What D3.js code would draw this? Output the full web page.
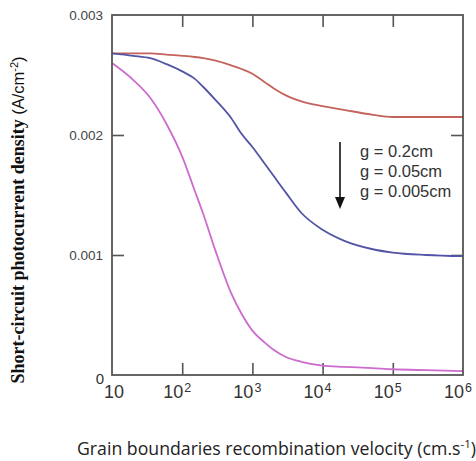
<!DOCTYPE html>
<html>
<head>
<meta charset="utf-8">
<script src="https://cdn.jsdelivr.net/npm/d3@7"></script>
<style>
  html, body { margin: 0; padding: 0; background: #fff; }
  svg { display: block; }
</style>
</head>
<body>
<svg id="chart" width="476" height="461"></svg>
<script>
// Grain boundary recombination velocity Sgb (cm/s)
const velocity = [10, 20, 35, 60, 100, 150, 200, 300, 500, 700, 1000, 1500, 2000, 3000, 5000, 1e4, 2e4, 5e4, 1e5, 3e5, 1e6];

// Short-circuit photocurrent density (A/cm^2) for three grain sizes
const jscG02 = [0.00268, 0.00268, 0.00268, 0.00267, 0.00266, 0.00265, 0.00264, 0.00262, 0.00258, 0.00255, 0.00251, 0.00244, 0.00239, 0.00233, 0.00228, 0.00224, 0.00221, 0.00217, 0.00215, 0.00215, 0.00215];
const jscG005 = [0.00268, 0.00266, 0.00264, 0.00259, 0.00253, 0.00247, 0.00240, 0.00229, 0.00214, 0.00201, 0.00190, 0.00176, 0.00166, 0.00152, 0.00135, 0.00121, 0.00112, 0.00105, 0.00102, 0.00100, 0.00099];
const jscG0005 = [0.00260, 0.00246, 0.00231, 0.00209, 0.00182, 0.00154, 0.00134, 0.00103, 0.00068, 0.00051, 0.00037, 0.00027, 0.00021, 0.00015, 0.00011, 0.000078, 0.000068, 0.000058, 0.000048, 0.000040, 0.000033];

const seriesNames = ["g = 0.2cm", "g = 0.05cm", "g = 0.005cm"];
const seriesColors = ["#c4625c", "#5254a6", "#cc6ccf"];

const xTickExps = [1, 2, 3, 4, 5, 6];
const yTicks = [0.001, 0.002, 0.003];

const svg = d3.select("#chart");
const plot = { left: 112, right: 463, top: 15, bottom: 375 };

const x = d3.scaleLog().domain([10, 1e6]).range([plot.left, plot.right]);
const y = d3.scaleLinear().domain([0, 0.003]).range([plot.bottom, plot.top]);

const frameColor = "#555";
const tickLen = 12;

// tick marks on all four sides, pointing inward
const innerX = xTickExps.slice(1, -1).map(e => Math.pow(10, e));
const xAxisBottom = d3.axisBottom(x).tickValues(innerX)
  .tickSizeInner(-tickLen).tickSizeOuter(0).tickFormat("");
const xAxisTop = d3.axisTop(x).tickValues(innerX)
  .tickSizeInner(-tickLen).tickSizeOuter(0).tickFormat("");
const yAxisLeft = d3.axisLeft(y).tickValues([0.001, 0.002])
  .tickSizeInner(-tickLen).tickSizeOuter(0).tickFormat("");
const yAxisRight = d3.axisRight(y).tickValues([0.001, 0.002])
  .tickSizeInner(-tickLen).tickSizeOuter(0).tickFormat("");

function styleAxis(g) {
  g.select(".domain").remove();
  g.selectAll(".tick line").attr("stroke", frameColor).attr("stroke-width", 1.6);
}

svg.append("g").attr("transform", `translate(0,${plot.bottom})`).call(xAxisBottom).call(styleAxis);
svg.append("g").attr("transform", `translate(0,${plot.top})`).call(xAxisTop).call(styleAxis);
svg.append("g").attr("transform", `translate(${plot.left},0)`).call(yAxisLeft).call(styleAxis);
svg.append("g").attr("transform", `translate(${plot.right},0)`).call(yAxisRight).call(styleAxis);

// curves
const line = d3.line()
  .x((d, i) => x(velocity[i]))
  .y(d => y(d))
  .curve(d3.curveMonotoneX);

[jscG02, jscG005, jscG0005].forEach((vals, k) => {
  svg.append("path")
    .datum(vals)
    .attr("fill", "none")
    .attr("stroke", seriesColors[k])
    .attr("stroke-width", 1.8)
    .attr("stroke-linejoin", "round")
    .attr("d", line);
});

// plot frame
svg.append("rect")
  .attr("x", plot.left).attr("y", plot.top)
  .attr("width", plot.right - plot.left).attr("height", plot.bottom - plot.top)
  .attr("fill", "none").attr("stroke", frameColor).attr("stroke-width", 1.8);

// y tick labels
svg.append("g").selectAll("text")
  .data(yTicks)
  .join("text")
  .attr("x", plot.left - 9)
  .attr("y", d => y(d) + 5)
  .attr("text-anchor", "end")
  .attr("font-family", "Liberation Sans, Arial, sans-serif")
  .attr("font-size", 13.5)
  .attr("fill", "#444")
  .text(d => d3.format(".3f")(d));

svg.append("text")
  .attr("x", plot.left - 12).attr("y", y(0) + 9)
  .attr("text-anchor", "middle")
  .attr("font-family", "Liberation Sans, Arial, sans-serif")
  .attr("font-size", 15)
  .attr("fill", "#333")
  .text("0");

// x tick labels: 10, 10^2 ... 10^6
const xl = svg.append("g")
  .attr("font-family", "Liberation Sans, Arial, sans-serif")
  .attr("fill", "#333");
xTickExps.forEach(e => {
  const px = x(Math.pow(10, e));
  if (e === 1) {
    xl.append("text").attr("x", px + 2).attr("y", plot.bottom + 23)
      .attr("text-anchor", "middle").attr("font-size", 18).text("10");
  } else {
    xl.append("text").attr("x", px + 1).attr("y", plot.bottom + 23)
      .attr("text-anchor", "end").attr("font-size", 18).text("10");
    xl.append("text").attr("x", px + 2).attr("y", plot.bottom + 17)
      .attr("text-anchor", "start").attr("font-size", 12.5).text(String(e));
  }
});

// axis titles
const xt = svg.append("text")
  .attr("x", 77).attr("y", 455)
  .attr("font-family", "Open Sans, Lato, sans-serif")
  .attr("font-size", 17.7)
  .attr("fill", "#222");
xt.append("tspan").text("Grain boundaries recombination velocity (cm.s");
xt.append("tspan").attr("dy", -7).attr("font-size", 11.5).text("-1");
xt.append("tspan").attr("dy", 7).text(")");

const yt = svg.append("text")
  .attr("transform", "translate(24,220) rotate(-90)")
  .attr("text-anchor", "middle")
  .attr("fill", "#111");
yt.append("tspan")
  .attr("font-family", "Liberation Serif, Times New Roman, serif")
  .attr("font-weight", "bold")
  .attr("font-size", 18)
  .text("Short-circuit photocurrent density ");
yt.append("tspan")
  .attr("font-family", "Liberation Sans, Arial, sans-serif")
  .attr("font-size", 16.5)
  .text("(A/cm");
yt.append("tspan")
  .attr("font-family", "Liberation Sans, Arial, sans-serif")
  .attr("font-size", 11).attr("dy", -6)
  .text("-2");
yt.append("tspan")
  .attr("font-family", "Liberation Sans, Arial, sans-serif")
  .attr("font-size", 16.5).attr("dy", 6)
  .text(")");

// annotation: arrow pointing toward decreasing grain size, with labels
const arrowX = 340, arrowTop = 142, arrowTip = 209;
svg.append("line")
  .attr("x1", arrowX).attr("x2", arrowX)
  .attr("y1", arrowTop).attr("y2", arrowTip - 10)
  .attr("stroke", "#111").attr("stroke-width", 1.6);
svg.append("path")
  .attr("d", `M${arrowX - 5},${arrowTip - 12} L${arrowX + 5},${arrowTip - 12} L${arrowX},${arrowTip} Z`)
  .attr("fill", "#111");

svg.append("g").selectAll("text")
  .data(seriesNames)
  .join("text")
  .attr("x", 360)
  .attr("y", (d, i) => 157 + i * 20)
  .attr("font-family", "Liberation Sans, Arial, sans-serif")
  .attr("font-size", 16.5)
  .attr("fill", "#333")
  .text(d => d);
</script>
</body>
</html>
